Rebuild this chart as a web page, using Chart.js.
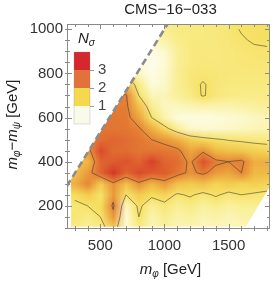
<!DOCTYPE html>
<html>
<head>
<meta charset="utf-8">
<script src="https://cdn.jsdelivr.net/npm/chart.js@4/dist/chart.umd.min.js"></script>
<style>
  html, body { margin: 0; padding: 0; background: #fff; }
  #wrap { width: 274px; height: 284px; }
</style>
</head>
<body>
<div id="wrap"><canvas id="chart" width="274" height="284"></canvas></div>
<script>
// grid nodes: m_phi (columns) and m_phi - m_psi (rows, top to bottom)
const mPhi = [300, 400, 500, 600, 700, 800, 900, 1000, 1100, 1200, 1300, 1400, 1500, 1600, 1700, 1800];
const dM = [1000, 950, 900, 850, 800, 750, 700, 650, 600, 550, 500, 450, 400, 350, 300, 250, 200, 150, 100];

// N_sigma, one array per row
const nSigma1000 = [0.75, 0.75, 0.75, 0.75, 0.75, 0.75, 0.75, 0.75, 0.82, 0.85, 0.85, 0.87, 0.92, 1.02, 1.05, 1.06];
const nSigma950  = [0.55, 0.55, 0.55, 0.55, 0.55, 0.55, 0.5, 0.6, 0.78, 0.85, 0.85, 0.86, 0.9, 0.97, 1.03, 1.05];
const nSigma900  = [0.2, 0.2, 0.2, 0.2, 0.2, 0.2, 0.15, 0.35, 0.7, 0.85, 0.86, 0.86, 0.88, 0.92, 0.95, 0.96];
const nSigma850  = [0.3, 0.3, 0.3, 0.3, 0.3, 0.3, 0.1, 0.3, 0.7, 0.85, 0.88, 0.87, 0.87, 0.9, 0.92, 0.92];
const nSigma800  = [0.9, 0.9, 0.9, 0.9, 0.9, 0.4, 0.15, 0.35, 0.72, 0.88, 0.92, 0.9, 0.87, 0.88, 0.88, 0.88];
const nSigma750  = [1.4, 1.4, 1.4, 1.4, 1.4, 0.8, 0.25, 0.4, 0.72, 0.88, 1.03, 0.9, 0.85, 0.85, 0.85, 0.85];
const nSigma700  = [2.0, 2.0, 2.0, 2.0, 2.05, 1.0, 0.5, 0.5, 0.68, 0.82, 1.03, 0.88, 0.82, 0.8, 0.8, 0.8];
const nSigma650  = [2.1, 2.1, 2.1, 2.1, 2.1, 1.4, 0.75, 0.45, 0.45, 0.5, 0.55, 0.55, 0.55, 0.6, 0.65, 0.7];
const nSigma600  = [2.2, 2.2, 2.2, 2.2, 2.15, 1.7, 1.0, 0.55, 0.25, 0.2, 0.2, 0.25, 0.3, 0.35, 0.45, 0.5];
const nSigma550  = [2.2, 2.2, 2.2, 2.2, 2.2, 2.05, 1.6, 1.15, 0.7, 0.4, 0.35, 0.35, 0.4, 0.45, 0.5, 0.55];
const nSigma500  = [2.0, 2.0, 2.3, 2.4, 2.3, 2.2, 2.0, 1.85, 1.6, 1.3, 1.15, 1.05, 0.97, 0.92, 0.88, 0.85];
const nSigma450  = [1.6, 1.8, 2.7, 2.3, 2.3, 2.2, 2.2, 2.2, 2.1, 1.7, 1.9, 1.5, 1.4, 1.35, 1.25, 1.2];
const nSigma400  = [1.4, 1.5, 2.4, 2.5, 2.6, 2.4, 2.8, 2.4, 2.3, 1.9, 2.6, 2.1, 2.0, 2.1, 1.6, 1.6];
const nSigma350  = [1.4, 1.8, 2.4, 2.9, 2.4, 2.7, 2.5, 2.5, 2.2, 1.9, 2.1, 1.8, 1.7, 2.0, 1.5, 1.5];
const nSigma300  = [1.6, 2.0, 1.3, 1.9, 1.4, 1.9, 1.5, 1.8, 1.4, 1.3, 1.4, 1.2, 1.3, 1.2, 1.25, 1.2];
const nSigma250  = [1.1, 1.3, 1.0, 1.8, 1.0, 1.3, 1.1, 1.2, 0.95, 1.05, 0.9, 1.05, 0.9, 1.0, 0.95, 0.9];
const nSigma200  = [0.9, 1.0, 1.1, 2.1, 0.45, 1.1, 0.7, 0.9, 0.7, 0.8, 0.65, 0.75, 0.65, 0.7, 0.7, 0.7];
const nSigma150  = [0.95, 0.8, 1.0, 1.8, 0.3, 1.0, 0.55, 0.75, 0.6, 0.65, 0.55, 0.6, 0.5, 0.6, 0.6, 0.6];
const nSigma100  = [0.8, 0.7, 0.8, 1.3, 0.35, 0.85, 0.5, 0.65, 0.5, 0.55, 0.45, 0.5, 0.45, 0.5, 0.5, 0.5];

const nSigmaRows = [nSigma1000, nSigma950, nSigma900, nSigma850, nSigma800, nSigma750, nSigma700,
  nSigma650, nSigma600, nSigma550, nSigma500, nSigma450, nSigma400, nSigma350, nSigma300,
  nSigma250, nSigma200, nSigma150, nSigma100];

// edge of the scanned region and the kinematic boundary (dashed)
const regionM  = [272, 272, 1030, 1840, 1840, 1635];
const regionDm = [105, 320, 1030, 1030, 305, 105];
const boundM  = [238, 1045];
const boundDm = [289, 1043];

const contourLevels = [1, 2, 3];
const legendLevels = ['1', '2', '3'];
const xTicks = [500, 1000, 1500];
const yTicks = [200, 400, 600, 800, 1000];

const colorStops = [
  [0, [255, 255, 250]],
  [0.4, [252, 248, 200]],
  [0.8, [249, 236, 135]],
  [1.1, [246, 222, 90]],
  [1.5, [240, 185, 68]],
  [2, [230, 135, 55]],
  [2.5, [222, 92, 46]],
  [3, [212, 46, 40]]
];

function colorFor(v) {
  if (v <= colorStops[0][0]) return colorStops[0][1];
  for (let i = 1; i < colorStops.length; i++) {
    if (v <= colorStops[i][0]) {
      const [v0, c0] = colorStops[i - 1];
      const [v1, c1] = colorStops[i];
      const t = (v - v0) / (v1 - v0);
      return c0.map((c, k) => Math.round(c + t * (c1[k] - c)));
    }
  }
  return colorStops[colorStops.length - 1][1];
}

// marching squares over the grid, returns segments in grid index coords
function contourSegments(level) {
  const segs = [];
  for (let r = 0; r < dM.length - 1; r++) {
    for (let c = 0; c < mPhi.length - 1; c++) {
      const corners = [[c, r], [c + 1, r], [c + 1, r + 1], [c, r + 1]];
      const vals = corners.map(([cc, rr]) => nSigmaRows[rr][cc]);
      const pts = [];
      for (let k = 0; k < 4; k++) {
        const a = vals[k], b = vals[(k + 1) % 4];
        if ((a < level) !== (b < level)) {
          const t = (level - a) / (b - a);
          const [c0, r0] = corners[k], [c1, r1] = corners[(k + 1) % 4];
          pts.push([c0 + t * (c1 - c0), r0 + t * (r1 - r0)]);
        }
      }
      if (pts.length === 2) segs.push(pts);
      else if (pts.length === 4) {
        segs.push([pts[0], pts[1]]);
        segs.push([pts[2], pts[3]]);
      }
    }
  }
  return segs;
}

const heatPlugin = {
  id: 'heat',
  beforeDatasetsDraw(chart) {
    const { ctx, chartArea: a, scales: { x, y } } = chart;
    const cols = mPhi.length, rows = dM.length;
    const dx = mPhi[1] - mPhi[0], dy = dM[0] - dM[1];

    const off = document.createElement('canvas');
    off.width = cols;
    off.height = rows;
    const octx = off.getContext('2d');
    const img = octx.createImageData(cols, rows);
    nSigmaRows.forEach((row, r) => {
      row.forEach((v, c) => {
        const [R, G, B] = colorFor(v);
        const i = (r * cols + c) * 4;
        img.data[i] = R; img.data[i + 1] = G; img.data[i + 2] = B; img.data[i + 3] = 255;
      });
    });
    octx.putImageData(img, 0, 0);

    ctx.save();
    ctx.beginPath();
    ctx.rect(a.left, a.top, a.right - a.left, a.bottom - a.top);
    ctx.clip();
    ctx.beginPath();
    regionM.forEach((m, i) => {
      const px = x.getPixelForValue(m), py = y.getPixelForValue(regionDm[i]);
      if (i === 0) ctx.moveTo(px, py); else ctx.lineTo(px, py);
    });
    ctx.closePath();
    ctx.clip();

    const x0 = x.getPixelForValue(mPhi[0] - dx / 2);
    const x1 = x.getPixelForValue(mPhi[cols - 1] + dx / 2);
    const y0 = y.getPixelForValue(dM[0] + dy / 2);
    const y1 = y.getPixelForValue(dM[rows - 1] - dy / 2);
    ctx.imageSmoothingEnabled = true;
    ctx.imageSmoothingQuality = 'low';
    ctx.drawImage(off, x0, y0, x1 - x0, y1 - y0);

    // contour lines
    ctx.strokeStyle = 'rgba(55,55,55,0.7)';
    ctx.lineWidth = 0.8;
    const toPx = ([c, r]) => [
      x.getPixelForValue(mPhi[0] + c * dx),
      y.getPixelForValue(dM[0] - r * dy)
    ];
    contourLevels.forEach(level => {
      ctx.beginPath();
      contourSegments(level).forEach(([p, q]) => {
        const [ax, ay] = toPx(p), [bx, by] = toPx(q);
        ctx.moveTo(ax, ay);
        ctx.lineTo(bx, by);
      });
      ctx.stroke();
    });
    ctx.restore();
  }
};

const framePlugin = {
  id: 'frame',
  afterDraw(chart) {
    const { ctx, chartArea: a, scales: { x, y } } = chart;
    ctx.save();
    ctx.strokeStyle = '#8a8a8a';
    ctx.lineWidth = 1;
    ctx.strokeRect(a.left + 0.5, a.top + 0.5, a.right - a.left - 1, a.bottom - a.top - 1);

    // ticks, drawn inward on all four sides
    ctx.beginPath();
    for (let m = 300; m <= 1800; m += 100) {
      const px = Math.round(x.getPixelForValue(m)) + 0.5;
      const len = xTicks.includes(m) ? 5 : 3;
      ctx.moveTo(px, a.bottom + 2); ctx.lineTo(px, a.bottom - len);
      ctx.moveTo(px, a.top); ctx.lineTo(px, a.top + len);
    }
    for (let v = 100; v <= 1000; v += 50) {
      const py = Math.round(y.getPixelForValue(v)) + 0.5;
      const len = yTicks.includes(v) ? 5 : 3;
      ctx.moveTo(a.left - 2, py); ctx.lineTo(a.left + len, py);
      ctx.moveTo(a.right, py); ctx.lineTo(a.right - len, py);
    }
    ctx.stroke();

    // tick labels
    ctx.fillStyle = '#333';
    ctx.font = '15px "Liberation Sans", Arial, sans-serif';
    ctx.textAlign = 'center';
    ctx.textBaseline = 'middle';
    xTicks.forEach(m => ctx.fillText(String(m), x.getPixelForValue(m), a.bottom + 17));
    ctx.textAlign = 'right';
    yTicks.forEach(v => ctx.fillText(String(v), a.left - 4, y.getPixelForValue(v)));

    // title
    ctx.fillStyle = '#222';
    ctx.textAlign = 'center';
    ctx.fillText('CMS\u221216\u2212033', (a.left + a.right) / 2 + 2, 10);

    // axis titles with subscripts
    const it = 'italic 15px "Liberation Sans", Arial, sans-serif';
    const sub = 'italic 10px "Liberation Sans", Arial, sans-serif';
    const rm = '15px "Liberation Sans", Arial, sans-serif';
    function runs(parts) {
      let w = 0;
      parts.forEach(p => { ctx.font = p[1]; w += ctx.measureText(p[0]).width; });
      return w;
    }
    function drawRuns(parts, cx, cy) {
      let px = cx - runs(parts) / 2;
      ctx.textAlign = 'left';
      parts.forEach(([t, f, dy]) => {
        ctx.font = f;
        ctx.fillText(t, px, cy + dy);
        px += ctx.measureText(t).width;
      });
    }
    drawRuns([['m', it, 0], ['\u03c6', sub, 4], [' [GeV]', rm, 0]], (a.left + a.right) / 2 + 2, 270);

    ctx.save();
    ctx.translate(13, (a.top + a.bottom) / 2 - 2);
    ctx.rotate(-Math.PI / 2);
    drawRuns([['m', it, 0], ['\u03c6', sub, 4], ['\u2212', rm, 0], ['m', it, 0], ['\u03c8', sub, 4], [' [GeV]', rm, 0]], 0, 0);
    ctx.restore();

    // N_sigma colour key
    const keyColors = ['#d4282e', '#e2713a', '#f5d84c', '#fafae9'];
    const keyTop = 52, keyH = 18, keyL = 74, keyW = 16;
    keyColors.forEach((c, i) => {
      ctx.fillStyle = c;
      ctx.fillRect(keyL, keyTop + i * keyH, keyW, keyH);
    });
    ctx.strokeStyle = 'rgba(150,150,150,0.5)';
    ctx.lineWidth = 0.6;
    ctx.strokeRect(keyL, keyTop, keyW, keyH * 4);
    ctx.strokeStyle = '#999';
    ctx.lineWidth = 1;
    ctx.fillStyle = '#444';
    ctx.font = '15px "Liberation Sans", Arial, sans-serif';
    ctx.textAlign = 'left';
    ctx.textBaseline = 'middle';
    legendLevels.forEach((lab, i) => {
      const py = keyTop + (3 - i) * keyH;
      ctx.beginPath();
      ctx.moveTo(keyL + keyW, py + 0.5);
      ctx.lineTo(keyL + keyW + 4, py + 0.5);
      ctx.stroke();
      ctx.fillText(lab, keyL + keyW + 8, py);
    });
    ctx.fillStyle = '#222';
    ctx.textBaseline = 'middle';
    ctx.font = 'italic 15px "Liberation Sans", Arial, sans-serif';
    ctx.fillText('N', 78, 39);
    const nW = ctx.measureText('N').width;
    ctx.font = 'italic 10px "Liberation Sans", Arial, sans-serif';
    ctx.fillText('\u03c3', 78 + nW, 43);
    ctx.restore();
  }
};

new Chart(document.getElementById('chart').getContext('2d'), {
  type: 'scatter',
  data: {
    datasets: [{
      data: boundM.map((m, i) => ({ x: m, y: boundDm[i] })),
      showLine: true,
      borderColor: '#8c8c8c',
      borderWidth: 2.6,
      borderDash: [7, 4],
      pointRadius: 0
    }]
  },
  options: {
    responsive: false,
    animation: false,
    devicePixelRatio: 1,
    layout: { padding: { left: 67, right: 4, top: 24, bottom: 55 } },
    scales: {
      x: { type: 'linear', min: 240, max: 1823, display: false },
      y: { type: 'linear', min: 95, max: 1024, display: false }
    },
    plugins: {
      legend: { display: false },
      tooltip: { enabled: false }
    }
  },
  plugins: [heatPlugin, framePlugin]
});
</script>
</body>
</html>
